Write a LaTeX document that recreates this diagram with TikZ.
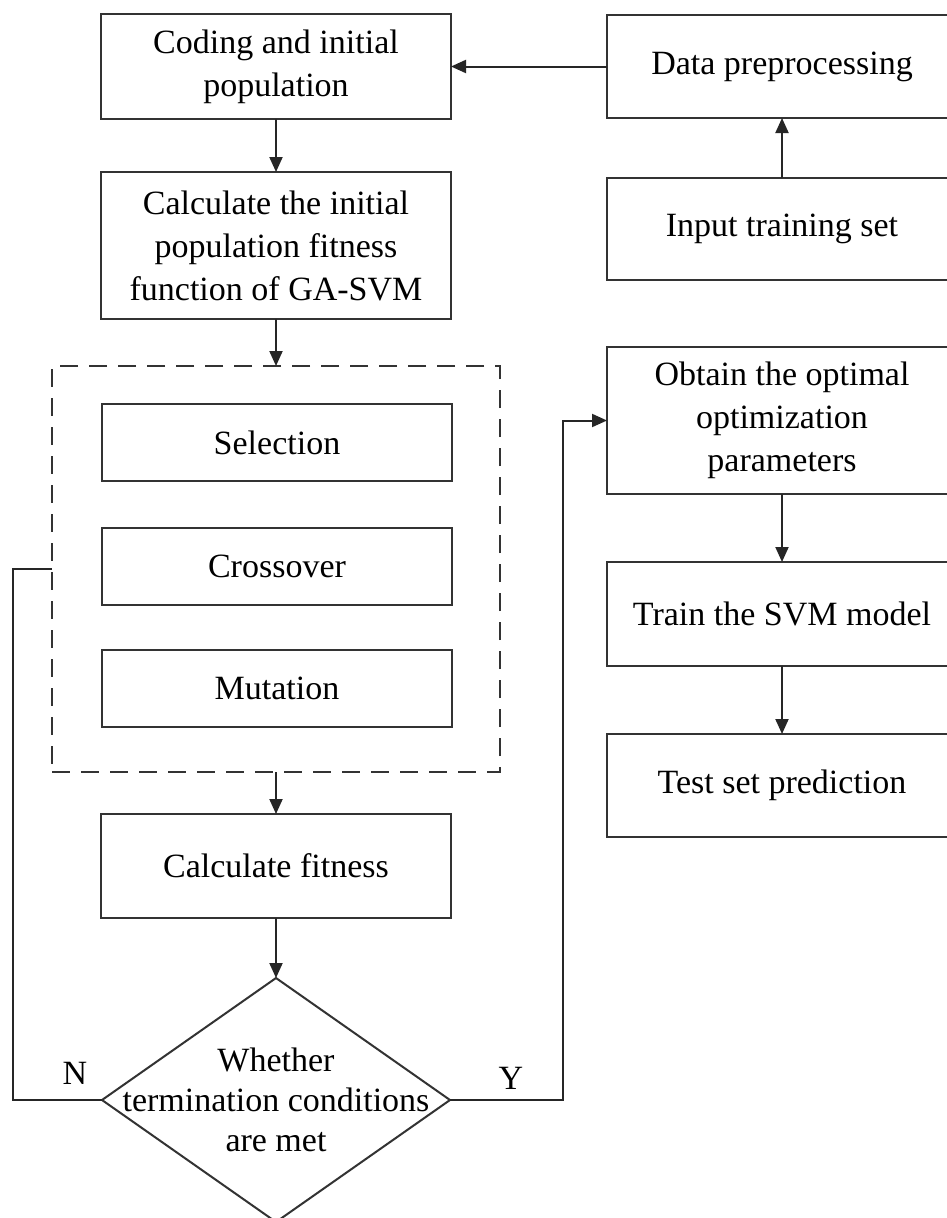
\documentclass[tikz,border=0pt]{standalone}
\usepackage{fontspec}
\setmainfont{Liberation Serif}
\usetikzlibrary{arrows.meta,shapes.geometric}

\tikzset{
  box/.style={draw=black!80, line width=2pt, rectangle, inner sep=0pt, outer sep=0pt,
              align=center, font=\fontsize{34}{43}\selectfont},
  groupbox/.style={draw=black!80, line width=2pt, dash pattern=on 18pt off 11pt,
              rectangle, inner sep=0pt, outer sep=0pt},
  decision/.style={draw=black!80, line width=2pt, diamond, inner sep=0pt, outer sep=0pt},
  txt/.style={align=center, inner sep=0pt, font=\fontsize{34}{40}\selectfont},
  arr/.style={draw=black!85, line width=2pt, -{Triangle[length=15pt,width=13pt]}},
  line/.style={draw=black!85, line width=2pt},
}

\begin{document}
\begin{tikzpicture}[x=1pt, y=-1pt]
\useasboundingbox (0,0) rectangle (947,1218);
\clip (0,0) rectangle (947,1218);
\fill[white] (0,0) rectangle (947,1218);

% left column: GA loop
\node[box, minimum width=350pt, minimum height=105pt] (coding) at (276,66.5)
  {Coding and initial\\population};
\node[box, minimum width=350pt, minimum height=147pt] (calcinit) at (276,245.5)
  {Calculate the initial\\population fitness\\function of GA-SVM};
\node[groupbox, minimum width=448pt, minimum height=406pt] (ops) at (276,569) {};
\node[box, minimum width=350pt, minimum height=77pt] (sel) at (277,442.5) {Selection};
\node[box, minimum width=350pt, minimum height=77pt] (cross) at (277,566.5) {Crossover};
\node[box, minimum width=350pt, minimum height=77pt] (mut) at (277,688.5) {Mutation};
\node[box, minimum width=350pt, minimum height=104pt] (fit) at (276,866) {Calculate fitness};
\node[decision, minimum width=348pt, minimum height=244pt] (dec) at (276,1100) {};
\node[txt] (dectext) at (276,1100) {Whether\\termination conditions\\are met};

% right column: data and SVM
\node[box, minimum width=350pt, minimum height=103pt] (data) at (782,66.5) {Data preprocessing};
\node[box, minimum width=350pt, minimum height=102pt] (input) at (782,229) {Input training set};
\node[box, minimum width=350pt, minimum height=147pt] (obtain) at (782,420.5)
  {Obtain the optimal\\optimization\\parameters};
\node[box, minimum width=350pt, minimum height=104pt] (train) at (782,614) {Train the SVM model};
\node[box, minimum width=350pt, minimum height=103pt] (test) at (782,785.5) {Test set prediction};

% routing columns for the loops
\coordinate (nbus) at (13,0);
\coordinate (ybus) at (563,0);

% connectors
\draw[arr] (data.west) -- (coding.east);
\draw[arr] (input.north) -- (data.south);
\draw[arr] (coding.south) -- (calcinit.north);
\draw[arr] (calcinit.south) -- (ops.north);
\draw[arr] (ops.south) -- (fit.north);
\draw[arr] (fit.south) -- (dec.north);
\draw[arr] (obtain.south) -- (train.north);
\draw[arr] (train.south) -- (test.north);
\draw[line] (dec.west) -- (dec.west -| nbus) |- (ops.west);
\draw[arr] (dec.east) -- (dec.east -| ybus) |- (obtain.west);

% branch labels
\node[txt] (nlab) at (75,1073) {N};
\node[txt] (ylab) at (511,1078) {Y};
\end{tikzpicture}
\end{document}
